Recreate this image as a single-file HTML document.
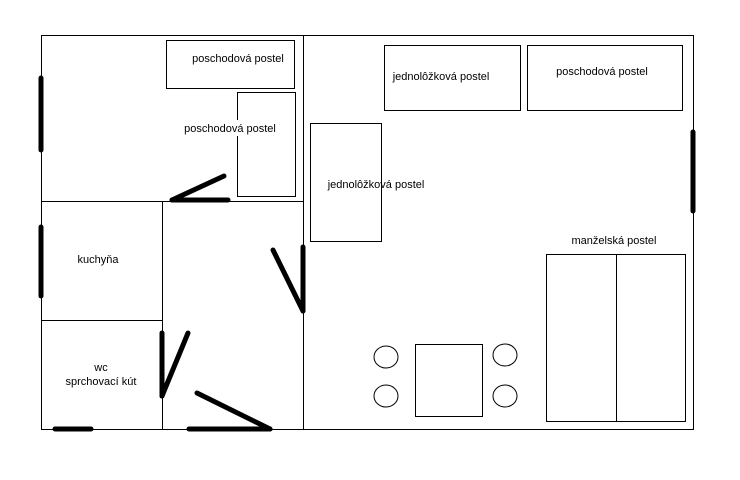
<!DOCTYPE html><html><head><style>body{margin:0;background:#fff}</style></head><body>
<svg width="740" height="480" xmlns="http://www.w3.org/2000/svg" style="display:block" font-family="Liberation Sans, sans-serif" font-size="11" fill="none" stroke="#000">
<rect x="41.5" y="35.5" width="652" height="394" stroke-width="1"/>
<line x1="303.5" y1="35" x2="303.5" y2="430"/>
<line x1="41" y1="201.5" x2="303" y2="201.5"/>
<line x1="162.5" y1="201" x2="162.5" y2="430"/>
<line x1="41" y1="320.5" x2="162" y2="320.5"/>
<rect x="166.5" y="40.5" width="128" height="48"/>
<rect x="237.5" y="92.5" width="58" height="104"/>
<rect x="310.5" y="123.5" width="71" height="118"/>
<rect x="384.5" y="45.5" width="136" height="65"/>
<rect x="527.5" y="45.5" width="155" height="65"/>
<rect x="546.5" y="254.5" width="139" height="167"/>
<line x1="616.5" y1="254" x2="616.5" y2="421"/>
<rect x="415.5" y="344.5" width="67" height="72"/>
<ellipse cx="386" cy="357" rx="12" ry="11"/><ellipse cx="386" cy="396" rx="12" ry="11"/>
<ellipse cx="505" cy="355" rx="12" ry="11"/><ellipse cx="505" cy="396" rx="12" ry="11"/>
<g stroke-width="5" stroke-linecap="round">
<line x1="41" y1="78" x2="41" y2="150"/><line x1="41" y1="227" x2="41" y2="296"/>
<line x1="693" y1="132" x2="693" y2="211"/>
<line x1="55" y1="429" x2="91" y2="429"/><line x1="189" y1="429" x2="270" y2="429"/>
<line x1="197" y1="393" x2="270" y2="429"/>
<line x1="162" y1="333" x2="162" y2="396"/><line x1="162" y1="396" x2="188" y2="333"/>
<line x1="303" y1="247" x2="303" y2="311"/><line x1="273" y1="250" x2="303" y2="311"/>
<line x1="172" y1="200" x2="228" y2="200"/><line x1="172" y1="200" x2="224" y2="176"/>
</g>
<rect x="184" y="120" width="92" height="16" fill="#fff" stroke="none"/>
<g fill="#000" stroke="none" text-anchor="middle">
<text x="238" y="62">poschodová postel</text>
<text x="230" y="132">poschodová postel</text>
<text x="441" y="80">jednolôžková postel</text>
<text x="602" y="75">poschodová postel</text>
<text x="376" y="188">jednolôžková postel</text>
<text x="614" y="244">manželská postel</text>
<text x="98" y="263">kuchyňa</text>
<text x="101" y="371">wc</text>
<text x="101" y="385">sprchovací kút</text>
</g>
</svg></body></html>
